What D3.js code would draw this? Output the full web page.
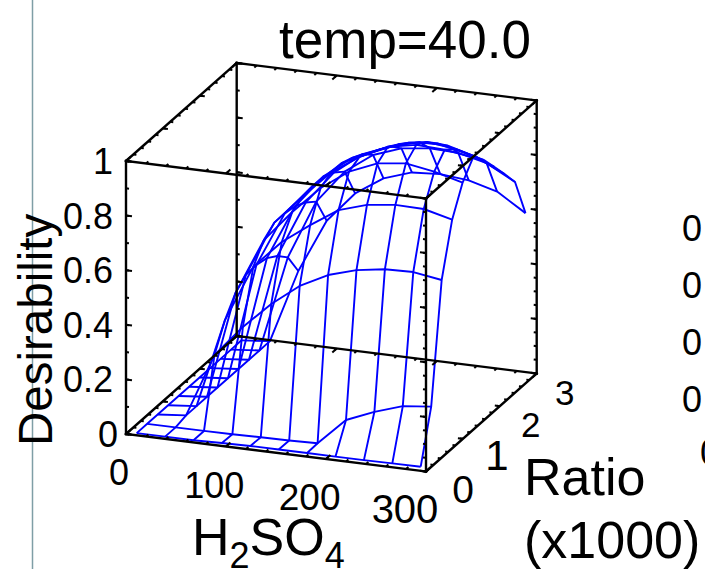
<!doctype html>
<html lang="en">
  <head>
    <meta charset="UTF-8" />
    <title>temp=40.0</title>
    <script src="https://d3js.org/d3.v7.min.js"></script>
    <style>
      html,
      body {
        margin: 0;
        padding: 0;
        background: #fff;
        overflow: hidden;
      }
      svg {
        display: block;
      }
      text {
        font-family: "Liberation Sans", Arial, sans-serif;
        fill: #000;
      }
    </style>
  </head>
  <body>
    <svg id="chart" width="705" height="569"></svg>
    <script>
      // Grid of the surface
      const h2so4Grid = [8.5, 36.9, 65.3, 93.7, 122.1, 150.5, 178.9, 207.3, 235.7, 264.1, 292.5];
      const ratioGrid = [0.06, 0.344, 0.628, 0.912, 1.196, 1.48, 1.764, 2.048, 2.332, 2.616, 2.9];

      // One row of desirability per ratio value, left to right along H2SO4
      const row0 = [0, 0, 0, 0.003, 0.005, 0.005, 0.005, 0.005, 0.005, 0.006, 0.007];
      const row1 = [0, 0, 0, 0.001, 0.003, 0.004, 0.007, 0.105, 0.148, 0.182, 0.193];
      const row2 = [0, 0.01, 0.244, 0.36, 0.457, 0.536, 0.589, 0.62, 0.636, 0.639, 0.623];
      const row3 = [0, 0.01, 0.338, 0.547, 0.65, 0.725, 0.793, 0.825, 0.838, 0.836, 0.81];
      const row4 = [0, 0.01, 0.403, 0.61, 0.726, 0.827, 0.9, 0.943, 0.956, 0.939, 0.912];
      const row5 = [0, 0.01, 0.436, 0.64, 0.75, 0.85, 0.92, 0.97, 0.99, 0.985, 0.97];
      const row6 = [0, 0.01, 0.438, 0.64, 0.755, 0.85, 0.9, 0.945, 0.967, 0.954, 0.927];
      const row7 = [0, 0.01, 0.429, 0.633, 0.755, 0.835, 0.88, 0.917, 0.927, 0.905, 0.868];
      const row8 = [0, 0.01, 0.403, 0.612, 0.735, 0.815, 0.856, 0.885, 0.885, 0.857, 0.807];
      const row9 = [0, 0.01, 0.364, 0.581, 0.704, 0.778, 0.815, 0.828, 0.825, 0.8, 0.744];
      const row10 = [0, 0.01, 0.28, 0.477, 0.59, 0.658, 0.693, 0.7, 0.69, 0.662, 0.596];
      const rows = [row0, row1, row2, row3, row4, row5, row6, row7, row8, row9, row10];

      const h2so4Ticks = [0, 100, 200, 300];
      const ratioTicks = [0, 1, 2, 3];
      const desirabilityTicks = [0, 0.2, 0.4, 0.6, 0.8, 1];
      const h2so4Minor = d3.range(0, 301, 20);
      const ratioMinor = d3.range(0, 3.01, 0.2);
      const desirabilityMinorLeft = d3.range(0, 1.01, 0.1);
      const desirabilityMinorRight = d3.range(0, 1.01, 0.05);

      // Labels of the next panel, cut off by the right edge of the picture
      const nextPanelLabels = ["1", "0", "0", "0", "0", "0"];
      const nextPanelX = [704, 682, 682, 682, 682, 700];
      const nextPanelY = [170, 241, 298, 355, 412, 465];

      const svg = d3.select("#chart");

      // The oblique projection of the box is three linear scales added together
      const xShiftX = d3.scaleLinear().domain([0, 300]).range([0, 300]);
      const xShiftY = d3.scaleLinear().domain([0, 300]).range([0, 37.5]);
      const rShiftX = d3.scaleLinear().domain([0, 3]).range([0, 110.7]);
      const rShiftY = d3.scaleLinear().domain([0, 3]).range([0, -98]);
      const zShiftY = d3.scaleLinear().domain([0, 1]).range([0, -273]);

      function project(x, r, z) {
        return [126 + xShiftX(x) + rShiftX(r), 434 + xShiftY(x) + rShiftY(r) + zShiftY(z)];
      }

      const line = d3.line();

      // Surface: plain wireframe, one polyline per row and per column
      const surface = svg
        .append("g")
        .attr("fill", "none")
        .attr("stroke", "#0000ff")
        .attr("stroke-width", 1.9)
        .attr("stroke-linejoin", "round");

      surface
        .selectAll("path.row")
        .data(rows)
        .join("path")
        .attr("class", "row")
        .attr("d", (row, j) => line(row.map((z, i) => project(h2so4Grid[i], ratioGrid[j], z))));

      surface
        .selectAll("path.col")
        .data(h2so4Grid)
        .join("path")
        .attr("class", "col")
        .attr("d", (x, i) => line(rows.map((row, j) => project(x, ratioGrid[j], row[i]))));

      // Box
      const box = svg.append("g").attr("stroke", "#000");
      const edges = [
        [[0, 0, 0], [300, 0, 0]],
        [[0, 3, 0], [300, 3, 0]],
        [[0, 0, 1], [300, 0, 1]],
        [[0, 3, 1], [300, 3, 1]],
        [[0, 0, 0], [0, 3, 0]],
        [[300, 0, 0], [300, 3, 0]],
        [[0, 0, 1], [0, 3, 1]],
        [[300, 0, 1], [300, 3, 1]],
        [[0, 0, 0], [0, 0, 1]],
        [[300, 0, 0], [300, 0, 1]],
        [[0, 3, 0], [0, 3, 1]],
        [[300, 3, 0], [300, 3, 1]]
      ];
      edges.forEach(([a, b]) => {
        box
          .append("path")
          .attr("d", line([project(...a), project(...b)]))
          .attr("stroke-width", 2.4)
          .attr("stroke-linecap", "square");
      });

      function tick(from, dx, dy) {
        const p = project(...from);
        box
          .append("path")
          .attr("d", line([p, [p[0] + dx, p[1] + dy]]))
          .attr("stroke-width", 2);
      }

      // Ticks on every edge, pointing into the box face
      [0, 1].forEach((z) => {
        [0, 3].forEach((r) => {
          const sign = r === 0 ? 1 : -1;
          h2so4Minor.forEach((v) => tick([v, r, z], sign * 2.4, -sign * 2.1));
          h2so4Ticks.forEach((v) => tick([v, r, z], sign * 4.4, -sign * 3.9));
        });
        [0, 300].forEach((x) => {
          const sign = x === 0 ? 1 : -1;
          ratioMinor.forEach((v) => tick([x, v, z], sign * 3, sign * 0.4));
          ratioTicks.forEach((v) => tick([x, v, z], sign * 5, sign * 0.6));
        });
      });
      [0, 300].forEach((x) => {
        const sign = x === 0 ? 1 : -1;
        const minor = x === 0 ? desirabilityMinorLeft : desirabilityMinorRight;
        [0, 3].forEach((r) => {
          minor.forEach((v) => tick([x, r, v], sign * 3, sign * 0.4));
          desirabilityTicks.forEach((v) => tick([x, r, v], sign * 6, sign * 0.75));
        });
      });

      // Tick labels, the picture is stretched so their sizes differ a little
      const labelSize = 36;
      const h2so4LabelSizes = [36, 36, 37, 40];
      const ratioLabelSizes = [39, 42, 35, 35];
      const h2so4LabelShift = d3.scaleLinear().domain([0, 300]).range([-7, -21]);
      svg
        .append("g")
        .selectAll("text")
        .data(h2so4Ticks)
        .join("text")
        .attr("x", (d) => project(d, 0, 0)[0] + h2so4LabelShift(d))
        .attr("y", (d) => project(d, 0, 0)[1] + 51)
        .attr("text-anchor", "middle")
        .attr("font-size", (d, i) => h2so4LabelSizes[i])
        .text((d) => d);

      const ratioLabelShift = d3.scaleLinear().domain([0, 3]).range([37, 28]);
      svg
        .append("g")
        .selectAll("text")
        .data(ratioTicks)
        .join("text")
        .attr("x", (d) => project(300, d, 0)[0] + ratioLabelShift(d))
        .attr("y", (d) => project(300, d, 0)[1] + 31)
        .attr("text-anchor", "middle")
        .attr("font-size", (d, i) => ratioLabelSizes[i])
        .text((d) => d);

      svg
        .append("g")
        .selectAll("text")
        .data(desirabilityTicks)
        .join("text")
        .attr("x", (d) => (d === 0 ? 118 : 113))
        .attr("y", (d) => project(0, 0, d)[1] + 13)
        .attr("text-anchor", "end")
        .attr("font-size", labelSize)
        .text((d) => d);

      // Left rule of the slide
      svg
        .append("line")
        .attr("x1", 32.5)
        .attr("x2", 32.5)
        .attr("y1", 0)
        .attr("y2", 569)
        .attr("stroke", "#7f9ea6")
        .attr("stroke-width", 1.5);

      // Titles
      svg
        .append("text")
        .attr("x", 405)
        .attr("y", 58)
        .attr("text-anchor", "middle")
        .attr("font-size", 53)
        .text("temp=40.0");

      svg
        .append("text")
        .attr("transform", "translate(52,446) rotate(-90)")
        .attr("font-size", 47.5)
        .text("Desirability");

      const h2so4Title = svg
        .append("text")
        .attr("x", 192)
        .attr("y", 555)
        .attr("font-size", 52);
      h2so4Title.append("tspan").text("H");
      h2so4Title.append("tspan").attr("font-size", 36).attr("dy", 13).text("2");
      h2so4Title.append("tspan").attr("dy", -13).text("SO");
      h2so4Title.append("tspan").attr("font-size", 36).attr("dy", 13).text("4");

      svg.append("text").attr("x", 524).attr("y", 495).attr("font-size", 52).text("Ratio");
      svg.append("text").attr("x", 524).attr("y", 558).attr("font-size", 52).text("(x1000)");

      // Cut-off labels of the next panel
      svg
        .append("g")
        .selectAll("text")
        .data(nextPanelLabels)
        .join("text")
        .attr("x", (d, i) => nextPanelX[i])
        .attr("y", (d, i) => nextPanelY[i])
        .attr("font-size", labelSize)
        .text((d) => d);
    </script>
  </body>
</html>
